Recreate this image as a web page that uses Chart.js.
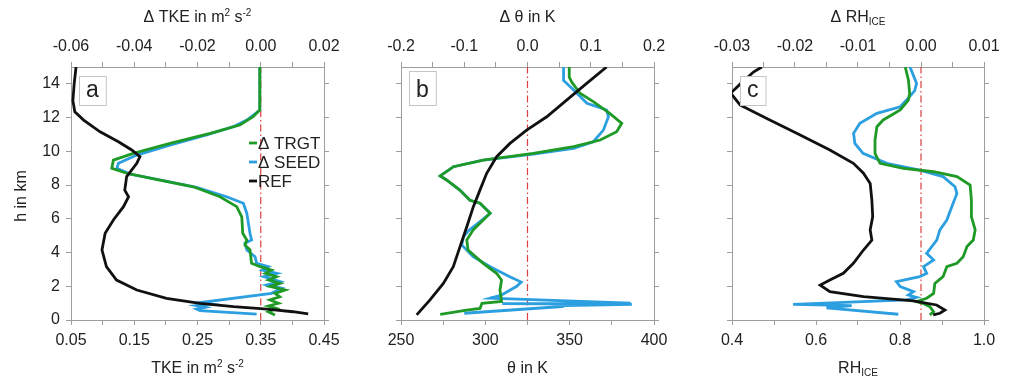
<!DOCTYPE html>
<html>
<head>
<meta charset="utf-8">
<script src="https://cdn.jsdelivr.net/npm/chart.js@4"></script>
<style>
  body { margin: 0; background: #fff; }
  .fig { position: relative; width: 1013px; height: 376px; }
  canvas { position: absolute; top: 0; }
</style>
</head>
<body>
<div class="fig">
  <canvas id="panelA" width="340" height="376" style="left:0px"></canvas>
  <canvas id="panelB" width="330" height="376" style="left:340px"></canvas>
  <canvas id="panelC" width="343" height="376" style="left:670px"></canvas>
</div>
<script>
// Height axis (km), shared by all three panels
const heightTicks = [0, 2, 4, 6, 8, 10, 12, 14];
const heightLabels = ['0', '2', '4', '6', '8', '10', '12', '14'];

// Panel a: TKE
const tkeTicks = [0.05, 0.10, 0.15, 0.20, 0.25, 0.30, 0.35, 0.40, 0.45];
const tkeLabels = ['0.05', '', '0.15', '', '0.25', '', '0.35', '', '0.45'];
const dTkeTicks = [-0.06, -0.05, -0.04, -0.03, -0.02, -0.01, 0, 0.01, 0.02];
const dTkeLabels = ['-0.06', '', '-0.04', '', '-0.02', '', '0.00', '', '0.02'];

const hRefA = [15.0, 14.0, 13.0, 12.35, 11.85, 11.16, 10.57, 10.08, 9.68, 9.29, 8.5, 7.7, 7.31, 6.72, 5.93, 5.14, 4.15, 3.16, 2.37, 1.78, 1.28, 0.99, 0.79, 0.65, 0.49, 0.36];
const tkeRef = [0.058, 0.055, 0.053, 0.056, 0.070, 0.096, 0.125, 0.146, 0.159, 0.154, 0.138, 0.135, 0.141, 0.133, 0.117, 0.104, 0.099, 0.106, 0.122, 0.154, 0.201, 0.254, 0.307, 0.360, 0.401, 0.425];

const hTrgtA = [15.0, 12.45, 12.05, 11.56, 11.07, 10.47, 9.88, 9.48, 8.99, 8.7, 8.3, 7.9, 7.31, 6.72, 6.12, 5.14, 4.74, 4.45, 4.15, 3.36, 3.16, 2.96, 2.77, 2.57, 2.37, 2.17, 1.98, 1.78, 1.58, 1.38, 1.19, 0.99, 0.83, 0.69, 0.49, 0.3];
const dTkeTrgt = [-0.0003, -0.0003, -0.0024, -0.0066, -0.016, -0.0287, -0.0403, -0.0466, -0.0471, -0.0424, -0.0319, -0.0213, -0.0129, -0.0076, -0.006, -0.0057, -0.0044, -0.005, -0.0034, -0.0029, -0.0002, 0.0034, 0.0015, 0.005, 0.0025, 0.0061, 0.003, 0.0077, 0.0045, 0.006, 0.0029, 0.0056, 0.0024, 0.005, 0.0024, 0.0045];

const hSeedA = [15.0, 12.45, 11.85, 11.46, 10.97, 10.37, 9.78, 9.29, 8.99, 8.65, 8.26, 7.86, 7.31, 6.92, 6.32, 5.73, 5.14, 4.74, 4.55, 4.15, 3.75, 3.36, 3.16, 2.96, 2.77, 2.57, 2.27, 2.08, 1.88, 1.58, 1.03, 0.95, 0.85, 0.75, 0.65, 0.55, 0.35];
const dTkeSeed = [-0.0003, -0.0003, -0.0044, -0.0087, -0.0171, -0.0287, -0.0392, -0.045, -0.0455, -0.0413, -0.0308, -0.0203, -0.0108, -0.0055, -0.0044, -0.0039, -0.0034, -0.0029, -0.005, -0.0044, -0.0018, -0.0013, 0.0024, 0.0005, 0.0051, 0.001, 0.0061, 0.002, 0.0066, 0.0034, -0.0192, -0.016, -0.0203, -0.0176, -0.0203, -0.0192, -0.0013];

// Panel b: potential temperature
const thetaTicks = [250, 275, 300, 325, 350, 375, 400];
const thetaLabels = ['250', '', '300', '', '350', '', '400'];
const dThetaTicks = [-0.2, -0.15, -0.1, -0.05, 0, 0.05, 0.1, 0.15, 0.2];
const dThetaLabels = ['-0.2', '', '-0.1', '', '0.0', '', '0.1', '', '0.2'];

const hRefB = [15.0, 14.03, 13.04, 12.05, 11.26, 10.47, 9.68, 8.7, 7.7, 6.72, 5.53, 4.35, 3.16, 2.17, 1.19, 0.3];
const thetaRef = [371.9, 360.1, 348.2, 336.4, 324.5, 314.6, 306.7, 300.8, 296.8, 292.9, 289.0, 285.0, 281.0, 275.1, 267.2, 259.3];

const hTrgtB = [15.0, 14.4, 14.1, 13.44, 12.95, 12.25, 11.66, 11.16, 10.67, 10.28, 9.88, 9.48, 9.09, 8.54, 8.3, 7.7, 7.1, 6.92, 6.33, 5.93, 5.34, 4.74, 4.15, 3.36, 2.77, 2.37, 1.78, 1.1, 0.99, 0.69, 0.59, 0.34];
const dThetaTrgt = [0.066, 0.066, 0.07, 0.083, 0.104, 0.130, 0.149, 0.141, 0.115, 0.073, 0.009, -0.070, -0.117, -0.138, -0.128, -0.107, -0.091, -0.075, -0.059, -0.070, -0.086, -0.096, -0.094, -0.070, -0.049, -0.041, -0.0435, -0.041, -0.072, -0.075, -0.096, -0.138];

const hSeedB = [15.0, 14.2, 13.64, 12.85, 12.45, 12.05, 11.26, 10.57, 10.18, 9.84, 9.48, 9.09, 8.54, 8.3, 7.7, 7.1, 6.92, 6.33, 5.93, 5.34, 4.94, 4.45, 3.75, 3.16, 2.57, 2.25, 2.0, 1.48, 1.29, 1.0, 0.97, 0.93, 0.86, 0.8, 0.4];
const dThetaSeed = [0.057, 0.057, 0.073, 0.094, 0.125, 0.128, 0.120, 0.104, 0.073, 0.009, -0.070, -0.117, -0.138, -0.128, -0.107, -0.091, -0.075, -0.059, -0.072, -0.092, -0.101, -0.104, -0.086, -0.059, -0.028, -0.01, -0.017, -0.041, -0.059, 0.163, -0.04, 0.165, 0.06, 0.055, -0.10];

// Panel c: relative humidity over ice
const rhTicks = [0.4, 0.5, 0.6, 0.7, 0.8, 0.9, 1.0];
const rhLabels = ['0.4', '', '0.6', '', '0.8', '', '1.0'];
const dRhTicks = [-0.03, -0.025, -0.02, -0.015, -0.01, -0.005, 0, 0.005, 0.01];
const dRhLabels = ['-0.03', '', '-0.02', '', '-0.01', '', '0.00', '', '0.01'];

const hRefC = [15.0, 14.7, 14.0, 13.45, 13.2, 12.75, 12.35, 11.86, 11.07, 10.08, 9.29, 8.7, 8.1, 7.11, 6.13, 5.34, 4.74, 4.15, 3.36, 2.77, 2.37, 2.07, 1.68, 1.38, 1.14, 0.89, 0.59, 0.4, 0.3];
const rhRef = [0.471, 0.451, 0.42, 0.397, 0.405, 0.419, 0.451, 0.490, 0.554, 0.633, 0.689, 0.713, 0.729, 0.733, 0.735, 0.729, 0.733, 0.713, 0.689, 0.665, 0.633, 0.610, 0.633, 0.713, 0.832, 0.887, 0.907, 0.895, 0.879];

const hTrgtC = [15.0, 14.23, 13.44, 13.04, 12.45, 11.86, 11.46, 10.67, 9.88, 9.29, 8.99, 8.79, 8.5, 8.0, 7.11, 6.13, 5.34, 4.74, 4.35, 3.75, 3.36, 3.16, 2.57, 2.17, 1.58, 1.29, 1.09, 0.99, 0.79, 0.49, 0.3];
const dRhTrgt = [-0.0025, -0.002, -0.0018, -0.002, -0.0033, -0.006, -0.007, -0.0073, -0.0073, -0.0065, -0.0028, 0.002, 0.0057, 0.0078, 0.008, 0.008, 0.0086, 0.0083, 0.0073, 0.0067, 0.0057, 0.0041, 0.0035, 0.0022, 0.002, 0.0009, -0.0007, 0.0003, 0.0014, 0.002, 0.0014];

const hSeedC = [15.0, 14.03, 13.6, 13.24, 12.64, 12.25, 11.66, 11.07, 10.47, 9.88, 9.29, 8.89, 8.5, 7.9, 7.5, 6.92, 5.93, 5.34, 4.74, 3.95, 3.56, 3.16, 2.77, 2.57, 2.27, 1.98, 1.68, 1.48, 1.34, 1.19, 0.93, 0.85, 0.72, 0.34];
const dRhSeed = [-0.00175, -0.0007, -0.001, -0.0018, -0.0033, -0.007, -0.0097, -0.0107, -0.0105, -0.0092, -0.0054, -0.0002, 0.0035, 0.0054, 0.0057, 0.0051, 0.0041, 0.003, 0.0025, 0.0009, 0.002, 0.0004, 0.0009, -0.0002, -0.0039, -0.0033, -0.0012, -0.002, -0.0007, -0.0023, -0.0203, -0.011, -0.015, -0.0036];

// zero reference for the difference axis
const zeroLineH = [0, 15];
const zeroLineV = [0, 0];

const FONT = "'Liberation Sans', Arial, Helvetica, sans-serif";
const AXIS_GREY = '#9d9d9d';
const TEXT = '#222';
const GREEN = '#1f9a27';
const BLUE = '#2b9fe0';
const BLACK = '#111';
const RED = '#dd4040';

Chart.defaults.font.family = FONT;
Chart.defaults.font.size = 16;
Chart.defaults.color = TEXT;

function pts(h, v) {
  return h.map((y, i) => ({ x: v[i], y: y }));
}

// one axis with explicit tick positions and a fixed box size
function axis(position, min, max, tickVals, tickLabels, size) {
  const horizontal = position === 'top' || position === 'bottom';
  return {
    type: 'linear',
    position: position,
    min: min,
    max: max,
    afterBuildTicks: s => { s.ticks = tickVals.map(v => ({ value: v })); },
    afterFit: s => {
      if (horizontal) s.height = size; else s.width = size;
      s.paddingLeft = 0; s.paddingRight = 0; s.paddingTop = 0; s.paddingBottom = 0;
    },
    grid: { drawOnChartArea: false, drawTicks: true, tickLength: 5, color: AXIS_GREY, lineWidth: 1 },
    border: { display: true, color: AXIS_GREY, width: 1 },
    ticks: {
      display: tickLabels !== null,
      autoSkip: false,
      maxRotation: 0,
      padding: 6,
      color: TEXT,
      callback: (v, i) => tickLabels ? tickLabels[i] : ''
    }
  };
}

function profile(label, h, v, color, xAxis, order) {
  return {
    label: label,
    data: pts(h, v),
    xAxisID: xAxis,
    borderColor: color,
    borderWidth: 2.8,
    pointRadius: 0,
    showLine: true,
    order: order,
    clip: 0
  };
}

function zeroLine() {
  return {
    data: pts(zeroLineH, zeroLineV),
    xAxisID: 'x2',
    borderColor: RED,
    borderWidth: 1.2,
    borderDash: [7, 3, 1.5, 3],
    pointRadius: 0,
    showLine: true,
    order: 5
  };
}

// text with optional super/subscript runs
function drawRich(ctx, parts, x, y, size) {
  const fontOf = p => (p.sup || p.sub ? Math.round(size * 0.6) : size) + 'px ' + FONT;
  const widths = parts.map(p => { ctx.font = fontOf(p); return ctx.measureText(p.t).width; });
  let cx = x - widths.reduce((a, b) => a + b, 0) / 2;
  parts.forEach((p, i) => {
    ctx.font = fontOf(p);
    const dy = p.sup ? -size * 0.4 : p.sub ? size * 0.2 : 0;
    ctx.fillText(p.t, cx, y + dy);
    cx += widths[i];
  });
}

function decor(cfg) {
  return {
    id: 'decor',
    afterDraw(chart) {
      const ctx = chart.ctx;
      const a = chart.chartArea;
      const mid = (a.left + a.right) / 2;
      ctx.save();
      ctx.fillStyle = TEXT;
      ctx.textAlign = 'left';
      ctx.textBaseline = 'alphabetic';
      drawRich(ctx, cfg.top, mid, 22, 16);
      drawRich(ctx, cfg.bottom, mid, 373, 16);
      if (cfg.left) {
        ctx.save();
        ctx.translate(26, 196);
        ctx.rotate(-Math.PI / 2);
        drawRich(ctx, cfg.left, 0, 0, 16);
        ctx.restore();
      }

      // panel letter in a framed box
      ctx.font = '23px ' + FONT;
      const m = ctx.measureText(cfg.letter);
      const bx = a.left + 8, base = a.top + 30;
      const top = base - m.actualBoundingBoxAscent - 8;
      ctx.fillStyle = '#fff';
      ctx.fillRect(bx, top, m.width + 14, base + 8 - top);
      ctx.strokeStyle = '#c4c4c4';
      ctx.lineWidth = 1;
      ctx.strokeRect(bx + 0.5, top + 0.5, m.width + 14, base + 8 - top);
      ctx.fillStyle = TEXT;
      ctx.fillText(cfg.letter, bx + 7, base);

      // legend
      if (cfg.legend) {
        ctx.font = '17px ' + FONT;
        let y = 143;
        chart.data.datasets.filter(d => d.label).forEach(d => {
          ctx.strokeStyle = d.borderColor;
          ctx.lineWidth = 2.8;
          ctx.beginPath();
          ctx.moveTo(249, y);
          ctx.lineTo(257, y);
          ctx.stroke();
          ctx.fillStyle = TEXT;
          ctx.fillText(d.label, 258, y + 6);
          y += 19;
        });
      }
      ctx.restore();
    }
  };
}

function panel(id, opts) {
  new Chart(document.getElementById(id), {
    type: 'scatter',
    data: {
      datasets: [
        profile('\u0394 TRGT', opts.hTrgt, opts.trgt, GREEN, 'x2', 1),
        profile('\u0394 SEED', opts.hSeed, opts.seed, BLUE, 'x2', 2),
        profile('REF', opts.hRef, opts.ref, BLACK, 'x', 0),
        zeroLine()
      ]
    },
    options: {
      responsive: false,
      animation: false,
      events: [],
      layout: { padding: 0, autoPadding: false },
      plugins: { legend: { display: false }, tooltip: { enabled: false } },
      scales: {
        x: axis('bottom', opts.xMin, opts.xMax, opts.xTicks, opts.xLabels, 56),
        x2: axis('top', opts.dMin, opts.dMax, opts.dTicks, opts.dLabels, 67),
        y: axis('left', 0, 15, heightTicks, opts.yLabels, opts.leftW),
        y2: axis('right', 0, 15, heightTicks, null, opts.rightW)
      }
    },
    plugins: [decor(opts.decor)]
  });
}

panel('panelA', {
  hRef: hRefA, ref: tkeRef, hTrgt: hTrgtA, trgt: dTkeTrgt, hSeed: hSeedA, seed: dTkeSeed,
  xMin: 0.05, xMax: 0.45, xTicks: tkeTicks, xLabels: tkeLabels,
  dMin: -0.06, dMax: 0.02, dTicks: dTkeTicks, dLabels: dTkeLabels,
  yLabels: heightLabels, leftW: 71, rightW: 16,
  decor: {
    letter: 'a', legend: true,
    top: [{ t: '\u0394 TKE in m' }, { t: '2', sup: true }, { t: ' s' }, { t: '-2', sup: true }],
    bottom: [{ t: 'TKE in m' }, { t: '2', sup: true }, { t: ' s' }, { t: '-2', sup: true }],
    left: [{ t: 'h in km' }]
  }
});

panel('panelB', {
  hRef: hRefB, ref: thetaRef, hTrgt: hTrgtB, trgt: dThetaTrgt, hSeed: hSeedB, seed: dThetaSeed,
  xMin: 250, xMax: 400, xTicks: thetaTicks, xLabels: thetaLabels,
  dMin: -0.2, dMax: 0.2, dTicks: dThetaTicks, dLabels: dThetaLabels,
  yLabels: heightTicks.map(() => ''), leftW: 61, rightW: 16,
  decor: {
    letter: 'b',
    top: [{ t: '\u0394 \u03b8 in K' }],
    bottom: [{ t: '\u03b8 in K' }]
  }
});

panel('panelC', {
  hRef: hRefC, ref: rhRef, hTrgt: hTrgtC, trgt: dRhTrgt, hSeed: hSeedC, seed: dRhSeed,
  xMin: 0.4, xMax: 1.0, xTicks: rhTicks, xLabels: rhLabels,
  dMin: -0.03, dMax: 0.01, dTicks: dRhTicks, dLabels: dRhLabels,
  yLabels: heightTicks.map(() => ''), leftW: 62, rightW: 29,
  decor: {
    letter: 'c',
    top: [{ t: '\u0394 RH' }, { t: 'ICE', sub: true }],
    bottom: [{ t: 'RH' }, { t: 'ICE', sub: true }]
  }
});
</script>
</body>
</html>
